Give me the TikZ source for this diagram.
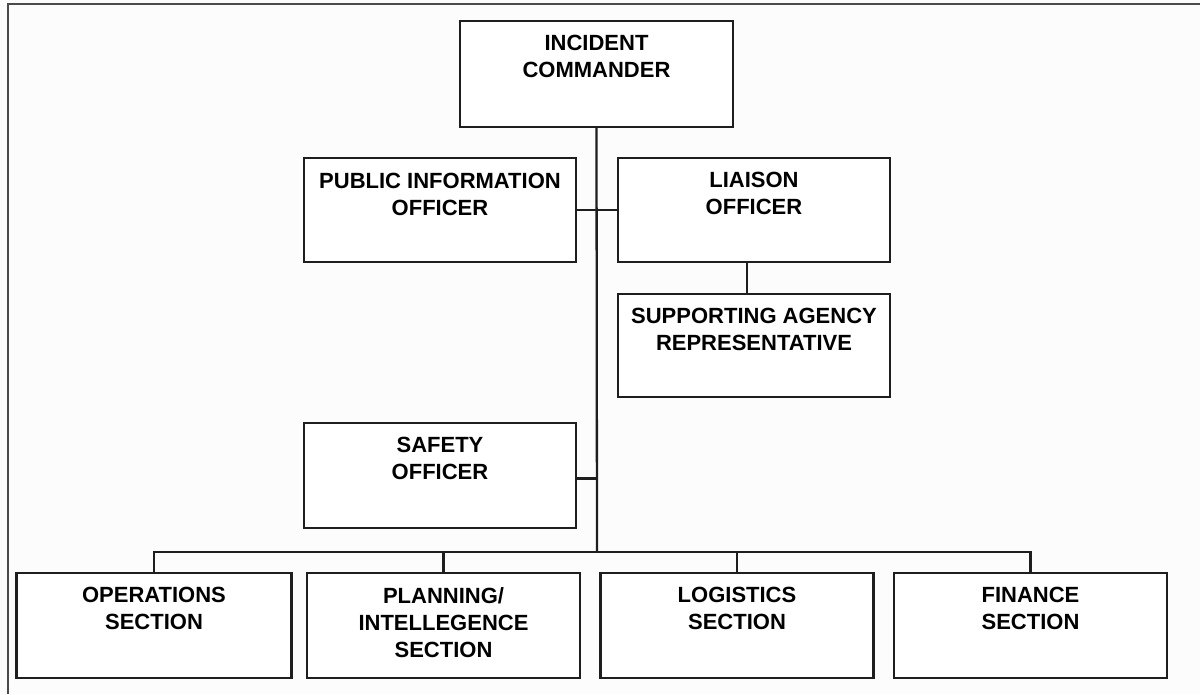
\documentclass[tikz,border=0pt]{standalone}
\usepackage{fontspec}
\setmainfont{Liberation Sans}
\usetikzlibrary{calc}
\definecolor{bgc}{HTML}{FCFCFC}
\definecolor{ln}{HTML}{1E1E1E}
\definecolor{frm}{HTML}{4A4A4A}
\tikzset{
  x=1pt, y=-1pt,
  orgbox/.style={draw=ln, line width=2.3pt, fill=white, minimum width=273pt, minimum height=105pt, inner sep=0pt},
  orgtxt/.style={font=\bfseries\fontsize{22}{27}\selectfont, align=center, anchor=north, inner sep=0pt, text=black},
  conn/.style={draw=ln, line width=2.3pt}
}
\begin{document}
\begin{tikzpicture}
\path[fill=bgc, use as bounding box] (0,0) rectangle (1200,694);
% frame (top and left only)
\draw[frm, line width=2.3pt] (1200,4) -- (8,4) -- (8,694);

% boxes
\node[orgbox, minimum height=106pt] (ic)  at (596.5,74) {};
\node[orgbox, minimum width=272pt, minimum height=104pt] (pio) at (440,210) {};
\node[orgbox, minimum width=272pt, minimum height=104pt] (lia) at (754,210) {};
\node[orgbox, minimum width=272pt, minimum height=103pt] (sar) at (754,345.5) {};
\node[orgbox, minimum width=272pt] (saf) at (440,475.5) {};
\node[orgbox, minimum width=275pt] (ops) at (154,625.5) {};
\node[orgbox] (pla) at (443.5,625.5) {};
\node[orgbox] (log) at (737,625.5) {};
\node[orgbox] (fin) at (1030.5,625.5) {};

% texts
\node[orgtxt] (ict) at ([yshift=-15pt]ic.north) {INCIDENT\\COMMANDER};
\node[orgtxt] (piot) at ([yshift=-16pt]pio.north) {PUBLIC INFORMATION\\OFFICER};
\node[orgtxt] (liat) at ([yshift=-15pt]lia.north) {LIAISON\\OFFICER};
\node[orgtxt] (sart) at ([yshift=-15pt]sar.north) {SUPPORTING AGENCY\\REPRESENTATIVE};
\node[orgtxt] (saft) at ([yshift=-15pt]saf.north) {SAFETY\\OFFICER};
\node[orgtxt] (opst) at ([yshift=-15pt]ops.north) {OPERATIONS\\SECTION};
\node[orgtxt] (plat) at ([yshift=-15pt]pla.north) {PLANNING/\\INTELLEGENCE\\SECTION};
\node[orgtxt] (logt) at ([yshift=-15pt]log.north) {LOGISTICS\\SECTION};
\node[orgtxt] (fint) at ([yshift=-15pt]fin.north) {FINANCE\\SECTION};

% connectors
\coordinate (bus) at (597,552);
\draw[conn] (ic.south) -- (bus);
\draw[conn] (pio.east) -- (lia.west);
\draw[conn] ([xshift=-7pt]lia.south) -- ([xshift=-7pt]sar.north);
\draw[conn] ([yshift=-3pt]saf.east) -- ([yshift=-3pt]saf.east -| bus);
\draw[conn] (ops.north) -- (ops.north |- bus) -- (fin.north |- bus) -- (fin.north);
\draw[conn] (pla.north) -- (pla.north |- bus);
\draw[conn] (log.north) -- (log.north |- bus);
\end{tikzpicture}
\end{document}
